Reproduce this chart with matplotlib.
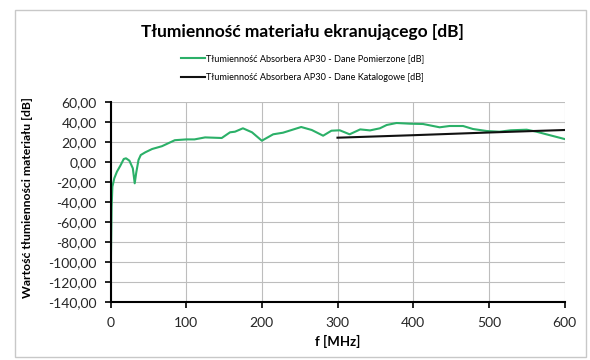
import matplotlib
matplotlib.use('Agg')
import matplotlib.pyplot as plt
from matplotlib.patches import Rectangle
from matplotlib.ticker import FuncFormatter

plt.rcParams['font.family'] = ['Lato', 'DejaVu Sans']

# measured attenuation (green)
freq_meas = [0, 0.5, 1.5, 2.5, 5, 8.5, 13, 17.5, 20.5, 25, 29.5, 32, 34, 37, 40, 46,
             55, 68, 85, 100, 111, 125, 147, 158, 164.5, 175, 187, 200, 215, 228,
             252, 266, 281, 292, 303, 316, 330, 343, 356, 365, 378, 396, 413, 435,
             448, 466, 479, 497, 514, 529, 550, 563, 576, 600]
att_meas = [-140, -100, -45, -25, -16.6, -10, -4, 2.7, 3.4, 1, -6.6, -21.6, -11, 1.7,
            6.7, 9.4, 12.7, 15.5, 21.5, 22.3, 22.3, 24.3, 23.7, 29.4, 30, 33.4, 29.4,
            21, 27.4, 29, 34.7, 31.7, 26, 31, 31.4, 27.4, 32.3, 31.3, 33.4, 36.7,
            38.7, 38, 37.7, 34.4, 35.7, 35.7, 32.7, 30.7, 30, 31.4, 32, 30, 27.4, 22.7]

# catalogue data (black)
freq_cat = [300, 400, 500, 600]
att_cat = [24, 26.5, 29.2, 31.7]

x_ticks = [0, 100, 200, 300, 400, 500, 600]
y_ticks = [60, 40, 20, 0, -20, -40, -60, -80, -100, -120, -140]

fig = plt.figure(figsize=(5.9, 3.6), dpi=100)
fig.patches.append(Rectangle((15 / 590, 1 - 357 / 360), 571 / 590, 347 / 360,
                             transform=fig.transFigure, fill=False,
                             edgecolor='#c8c8c8', linewidth=1))

ax = fig.add_axes([110.5 / 590, 1 - 301.7 / 360, 454 / 590, 200 / 360])
ax.plot(freq_meas, att_meas, color='#2bb068', linewidth=1.5,
        label='Tłumienność Absorbera AP30 - Dane Pomierzone [dB]')
ax.plot(freq_cat, att_cat, color='#111111', linewidth=1.5,
        label='Tłumienność Absorbera AP30 - Dane Katalogowe [dB]')

ax.set_xlim(0, 600)
ax.set_ylim(-140, 60)
ax.set_xticks(x_ticks)
ax.set_yticks(y_ticks)
ax.yaxis.set_major_formatter(FuncFormatter(lambda v, p: f'{v:.2f}'.replace('.', ',')))
ax.grid(True, color='#bdbdbd', linewidth=0.8)
ax.set_axisbelow(True)
for side in ['top', 'right']:
    ax.spines[side].set_visible(False)
for side in ['left', 'bottom']:
    ax.spines[side].set_linewidth(1.5)
ax.tick_params(axis='both', labelsize=10, length=4, width=1.2, colors='black',
               labelcolor='#262626')
ax.tick_params(axis='y', pad=6)
ax.tick_params(axis='x', pad=7)

ax.set_xlabel('f [MHz]', fontsize=9.5, fontweight='bold', labelpad=4)
fig.text(28 / 590, 1 - 198 / 360, 'Wartość tłumienności materiału [dB]', rotation=90,
         ha='center', va='center', fontsize=8.8, fontweight='bold')

fig.text(302 / 590, 1 - 32 / 360, 'Tłumienność materiału ekranującego [dB]',
         ha='center', va='center', fontsize=12.5, fontweight='bold')

fig.legend(loc='center', bbox_to_anchor=(303 / 590, 1 - 68 / 360), frameon=False,
           fontsize=6.6, handlelength=2.6, handletextpad=0.15, labelspacing=1.1,
           ncol=1)

fig.savefig('out.png', dpi=100)
